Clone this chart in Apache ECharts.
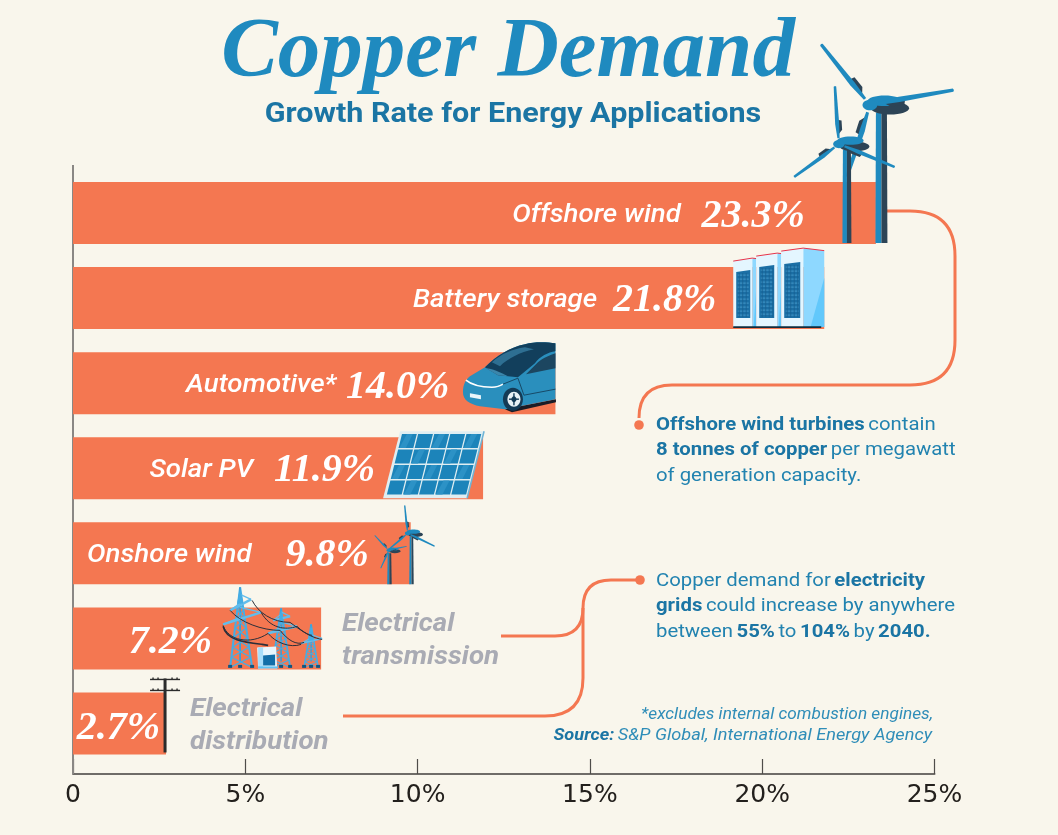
<!DOCTYPE html>
<html>
<head>
<meta charset="utf-8">
<title>Copper Demand</title>
<script src="https://cdn.jsdelivr.net/npm/echarts@6/dist/echarts.min.js"></script>
<style>
html, body { margin: 0; padding: 0; background: #f9f6ec; }
#chart { width: 1058px; height: 835px; }
</style>
</head>
<body>
<div id="chart"></div>
<script>
// data
var categories = ['Offshore wind', 'Battery storage', 'Automotive*', 'Solar PV', 'Onshore wind', 'Electrical\ntransmission', 'Electrical\ndistribution'];
var growthRates = [23.3, 21.8, 14.0, 11.9, 9.8, 7.2, 2.7];
var tickValues = [0, 5, 10, 15, 20, 25];

// layout of the labels, px back from each bar end
var valueGaps = [71, 108, 106, 108, 42, 109, 6];
var nameGaps = [195, 227, 219, 230, 159, null, null];
var valueNudge = [4, 3, 4, 2, 2, 4, 5];

var ORANGE = '#f47751', BLUE = '#1f8abf', DARK = '#2d4456', SKY = '#45ade4', INK = '#1b75a4';
var SANS = "Roboto, 'Noto Sans', sans-serif";

function poly(points, fill) {
	return {type: 'polygon', shape: {points: points}, style: {fill: fill}};
}
function line(x1, y1, x2, y2, stroke, width) {
	return {type: 'line', shape: {x1: x1, y1: y1, x2: x2, y2: y2}, style: {stroke: stroke, lineWidth: width}};
}
function path(d, style) {
	return {type: 'path', shape: {pathData: d}, style: style};
}

// one tapered blade with a dark fin near the hub
function blade(hx, hy, tx, ty, w) {
	var dx = tx - hx, dy = ty - hy, len = Math.sqrt(dx * dx + dy * dy);
	var nx = -dy / len, ny = dx / len;
	function at(t, s) { return [hx + dx * t + nx * s, hy + dy * t + ny * s]; }
	return [
		poly([at(0.16, 0), at(0.24, w * 1.5), at(0.4, w * 1.5), at(0.42, 0)], DARK),
		poly([at(0.1, -w * 0.4), at(0.35, -w * 0.85), at(0.99, -w * 0.45), at(1, 0), at(0.99, w * 0.45), at(0.35, w * 0.6), at(0.1, w * 0.4)], BLUE)
	];
}
function turbine(hx, hy, tips, tx, tw, baseY, w) {
	var n = w / 3.4;
	var els = [
		poly([[tx, hy + 7 * n], [tx + tw / 2, hy + 7 * n], [tx + tw / 2, baseY], [tx - 0.5, baseY]], BLUE),
		poly([[tx + tw / 2, hy + 3], [tx + tw, hy + 3], [tx + tw + 0.5, baseY], [tx + tw / 2, baseY]], DARK),
		{type: 'ellipse', shape: {cx: hx + 19 * n, cy: hy + 3 * n, rx: 18 * n, ry: 6 * n}, style: {fill: DARK}},
		{type: 'ellipse', shape: {cx: hx + 14 * n, cy: hy - 4 * n, rx: 16 * n, ry: 5 * n}, style: {fill: BLUE}}
	];
	tips.forEach(function (t) { els = els.concat(blade(hx, hy, t[0], t[1], w)); });
	els.push({type: 'ellipse', shape: {cx: hx, cy: hy, rx: 7 * n, ry: 5 * n}, style: {fill: BLUE}});
	return els;
}

function offshoreArt() {
	return turbine(870, 105, [[821, 44], [954, 90], [847, 177]], 876, 11, 243, 3.6)
		.concat(turbine(839, 144, [[835, 86], [794, 177], [895, 167]], 843, 8, 243, 2.8));
}
function onshoreArt() {
	return turbine(389, 550, [[375, 535], [407, 546], [381, 568]], 388, 3.5, 584, 1.1)
		.concat(turbine(408, 533, [[405, 505], [435, 546], [389, 549]], 410, 3.5, 584, 1.4));
}

function batteryArt() {
	var els = [];
	[[734, 753, 757, 258, 737, 751, 270], [757, 778, 782, 253, 760, 775, 265], [782, 804, 825, 248, 785, 801, 262]].forEach(function (c) {
		var lift = (c[2] - c[1]) * 0.12;
		els.push(poly([[c[1], c[3]], [c[2], c[3] + lift], [c[2], 327], [c[1], 327]], '#8ed8ff'));
		els.push(poly([[c[1] + (c[2] - c[1]) * 0.35, 327], [c[2], c[3] + 30], [c[2], 327]], '#62c8fb'));
		els.push(poly([[c[0], c[3] + 3], [c[1], c[3]], [c[1], 327], [c[0], 327]], '#e4f6ff'));
		els.push(line(c[0], c[3] + 3, c[1], c[3], '#e8344a', 1));
		els.push(line(c[1], c[3], c[2], c[3] + lift, '#e8344a', 1));
		els.push(poly([[c[4], c[6] + 2], [c[5], c[6]], [c[5], 318], [c[4], 318]], '#1b6fa5'));
		for (var gy = c[6] + 5; gy < 316; gy += 4) {
			els.push(line(c[4] + 1.5, gy, c[5] - 1.5, gy, '#3d93c4', 1.2));
		}
		for (var gx = c[4] + 3; gx < c[5] - 1; gx += 3.5) {
			els.push(line(gx, c[6] + 3, gx, 317, '#175f90', 0.8));
		}
	});
	els.push(line(734, 327, 822, 327, '#0f2d3e', 1.6));
	return els;
}

function carArt() {
	return [
		path('M505,409 L556,399 L556,402 L512,412 Z', {fill: '#1a1c26'}),
		path('M463,392 C463,384 466,379 470,376 L485,367 C497,355 510,347 525,344 C535,341 548,342 555.5,343 L555.5,399 L525,405 L505,409 L480,406 C470,404 463,400 463,392 Z', {fill: '#2a8fbd'}),
		path('M485,367 C497,355 510,347 525,344 C535,341 548,342 555.5,343 L555.5,351 C548,352 540,356 535,363 L518,377 L498,375 Z', {fill: '#123f5c'}),
		path('M492,362 C502,353 512,349 525,347 L534,349 C520,352 508,358 500,366 Z', {fill: '#2e6f92'}),
		path('M486,368 L498,375 L508,376 C500,372 492,368 486,368 Z', {fill: '#3b86ab'}),
		path('M526,374 L538,362 C544,357 550,355 555.5,353 L555.5,368 Z', {fill: '#1c4660'}),
		path('M518,378 L524,395 L555.5,389', {fill: 'none', stroke: '#174a68', lineWidth: 1}),
		path('M466,380 C472,385 482,387 492,387 C496,387 500,386 503,384', {fill: 'none', stroke: '#ffffff', lineWidth: 1.6}),
		path('M503,384 L518,378', {fill: 'none', stroke: '#174a68', lineWidth: 1}),
		poly([[470, 393], [481, 395], [481, 399], [470, 397]], '#eaf6fb'),
		{type: 'ellipse', shape: {cx: 513, cy: 399, rx: 10, ry: 11.5}, style: {fill: '#143b56'}},
		{type: 'ellipse', shape: {cx: 514, cy: 399, rx: 6.5, ry: 7.5}, style: {fill: '#e8f1f5'}},
		{type: 'ellipse', shape: {cx: 514, cy: 399, rx: 2.5, ry: 3}, style: {fill: '#143b56'}},
		line(514, 393, 514, 405, '#143b56', 1.4),
		line(509, 399, 519, 399, '#143b56', 1.4)
	];
}

function solarArt() {
	var els = [poly([[400, 431], [484, 431], [467, 498], [383, 498]], '#dfeef2')];
	els.push(line(484, 431, 467, 498, '#6fb4d6', 1.5));
	function corner(u, v) {
		var left = 401.5 - v * 15.5, right = 482 - v * 15.5;
		return [left + (right - left) * u, 433 + v * 62];
	}
	for (var r = 0; r < 4; r++) {
		for (var c = 0; c < 5; c++) {
			var u0 = c / 5 + 0.008, u1 = (c + 1) / 5 - 0.008, v0 = r / 4 + 0.012, v1 = (r + 1) / 4 - 0.012;
			els.push(poly([corner(u0, v0), corner(u1, v0), corner(u1, v1), corner(u0, v1)], '#1c84ba'));
			if ((r + c) % 2 === 0) {
				els.push(poly([corner(u0 + 0.06, v0), corner(u1 - 0.05, v0), corner(u0 + 0.09, v1), corner(u0 + 0.01, v1)], '#2c92c6'));
			}
		}
	}
	return els;
}

function towerArt(ax, ay, bl, br, by, arms, k) {
	var els = [];
	function spanX(t, side) { return ax + ((side < 0 ? bl : br) - ax) * t; }
	els.push(line(ax, ay, bl, by, SKY, 2 * k));
	els.push(line(ax, ay, br, by, SKY, 2 * k));
	els.push(line(ax, ay, ax, by - 6, '#3a9ed6', 1.8 * k));
	var steps = 9;
	for (var i = 1; i < steps; i++) {
		var t0 = Math.pow(i / steps, 1.15), t1 = Math.pow((i + 1) / steps, 1.15);
		var y0 = ay + (by - ay) * t0, y1 = ay + (by - ay) * t1;
		els.push(line(spanX(t0, -1), y0, spanX(t1, 1), y1, SKY, 1.2 * k));
		els.push(line(spanX(t0, 1), y0, spanX(t1, -1), y1, SKY, 1.2 * k));
	}
	arms.forEach(function (a) {
		els.push(line(a[0], a[1], a[2], a[3], '#62bdec', 2.4 * k));
		els.push(line(a[0], a[1], ax, a[1] - 7 * k, '#62bdec', 1.3 * k));
		els.push(line(a[2], a[3], ax, a[3] - 5 * k, '#62bdec', 1.3 * k));
	});
	els.push(poly([[ax - 3 * k, ay + 16], [ax, ay], [ax + 3 * k, ay + 16]], SKY));
	els.push(line(bl - 2, by - 1, bl + 2, by - 1, '#12557f', 3));
	els.push(line(br - 2, by - 1, br + 2, by - 1, '#12557f', 3));
	els.push(line(ax - 2, by - 1, ax + 2, by - 1, '#12557f', 3));
	return els;
}

function transmissionArt() {
	var wire = {fill: 'none', stroke: '#2b2f3a', lineWidth: 1};
	return [].concat(
		towerArt(311, 624, 304, 318, 667, [[301, 643, 322, 638]], 0.8),
		towerArt(281, 608, 272, 290, 667, [[268, 633, 297, 626], [273, 620, 290, 616]], 0.9),
		towerArt(240, 587, 230, 252, 667, [[230, 610, 251, 599], [223, 624, 261, 612]], 1),
		[
			path('M252,600 C258,612 272,622 290,622 C298,628 306,634 312,635', wire),
			path('M261,612 C270,628 285,630 297,626 C305,634 315,638 322,639', wire),
			path('M230,610 C240,622 262,630 280,630 C288,640 296,645 304,642', wire),
			path('M223,625 C228,640 250,645 268,633 C275,642 290,648 301,644', wire),
			path('M223,626 C226,640 245,642 262,644 L268,645', {fill: 'none', stroke: '#2b2f3a', lineWidth: 1.6}),
			poly([[257, 647], [276, 646], [277, 668], [258, 668]], '#eaf6fd'),
			poly([[258, 647], [263, 647], [263, 668], [258, 668]], '#a9defa'),
			poly([[263, 655], [275, 654], [275, 665], [263, 665]], '#126ea8'),
			line(258, 667, 278, 667, '#5cc2f5', 2)
		]
	);
}

function poleArt() {
	var els = [
		line(165, 679, 165, 753, '#2b2b2b', 3),
		line(150, 680, 180, 680, '#2b2b2b', 1.4),
		line(150, 691, 180, 691, '#2b2b2b', 1.4)
	];
	[153, 158, 172, 177].forEach(function (x) {
		els.push(line(x, 678, x, 680, '#2b2b2b', 1.4));
		els.push(line(x, 689, x, 691, '#2b2b2b', 1.4));
	});
	return els;
}

// art is drawn on its own board; the board's origin sits at the bar end
var artBoards = [
	{draw: offshoreArt, ox: 876, oy: 213},
	{draw: batteryArt, ox: 825, oy: 298},
	{draw: carArt, ox: 555.5, oy: 383},
	{draw: solarArt, ox: 483, oy: 468},
	{draw: onshoreArt, ox: 411, oy: 553},
	{draw: transmissionArt, ox: 321, oy: 638},
	{draw: poleArt, ox: 166, oy: 724}
];

function renderArt(params, api) {
	var p = api.coord([api.value(0), api.value(1)]);
	var board = artBoards[params.dataIndex];
	return {type: 'group', x: p[0] - board.ox, y: p[1] - board.oy, children: board.draw()};
}

function renderLabels(params, api) {
	var i = params.dataIndex;
	var p = api.coord([api.value(0), api.value(1)]);
	var children = [{
		type: 'text',
		style: {
			text: growthRates[i].toFixed(1) + '%', x: p[0] - valueGaps[i], y: p[1] + valueNudge[i],
			align: 'right', verticalAlign: 'middle',
			font: "italic bold 40px 'Liberation Serif'", fill: '#ffffff'
		}
	}];
	if (nameGaps[i] !== null) {
		children.push({
			type: 'text', x: p[0] - nameGaps[i], y: p[1] + 2, scaleX: 1.065,
			style: {
				text: categories[i], align: 'right', verticalAlign: 'middle',
				font: 'italic 500 26px ' + SANS, fill: '#ffffff'
			}
		});
	} else {
		children.push({
			type: 'text', x: p[0] + (i === 5 ? 21 : 24), y: p[1] + 3, scaleX: 1.065,
			style: {
				text: categories[i], align: 'left', verticalAlign: 'middle', lineHeight: 33,
				font: 'italic 700 26px ' + SANS, fill: '#a9abb4'
			}
		});
	}
	return {type: 'group', children: children};
}

function renderLeaders() {
	var style = {fill: 'none', stroke: ORANGE, lineWidth: 3};
	return {
		type: 'group',
		children: [
			path('M887,211 L910,211 Q955,211 955,256 L955,340 Q955,385 910,385 L672,385 Q639,385 639,418', style),
			path('M343,716 L545,716 Q583,716 583,678 L583,608 Q583,580 611,580 L640,580', style),
			path('M501,636 L555,636 Q583,636 583,608', style),
			{type: 'circle', shape: {cx: 639, cy: 425, r: 4.8}, style: {fill: ORANGE}},
			{type: 'circle', shape: {cx: 640, cy: 580, r: 4.8}, style: {fill: ORANGE}}
		]
	};
}

var noteRich = {
	b: {font: '700 19px ' + SANS, fill: '#1b75a4', lineHeight: 25.5},
	r: {font: '400 19px ' + SANS, fill: '#2283b0', lineHeight: 25.5}
};
var footRich = {
	n: {font: 'italic 400 17px ' + SANS, fill: '#2f8db8'},
	s: {font: 'italic 700 17px ' + SANS, fill: '#1b75a4'}
};
var chart = echarts.init(document.getElementById('chart'), null, {renderer: 'canvas'});
var seriesData = growthRates.map(function (v, i) { return [v, i]; });

chart.setOption({
	backgroundColor: '#f9f6ec',
	animation: false,
	grid: {left: 73, top: 170.5, width: 861.5, height: 595.5},
	xAxis: {
		type: 'value', min: tickValues[0], max: tickValues[tickValues.length - 1], interval: 5, offset: 8,
		splitLine: {show: false},
		axisLine: {show: true, lineStyle: {color: '#6f6c68', width: 2}},
		axisTick: {show: true, inside: true, length: 15, lineStyle: {color: '#4f4d4a', width: 1.2}},
		axisLabel: {
			margin: 9, fontSize: 25, fontFamily: 'DejaVu Sans', color: '#23201d',
			formatter: function (v) { return v === 0 ? '0' : v + '%'; }
		}
	},
	yAxis: {
		type: 'category', inverse: true, data: categories,
		axisLine: {show: false}, axisTick: {show: false}, axisLabel: {show: false}
	},
	graphic: [
		{type: 'line', z: 1, shape: {x1: 73, y1: 165, x2: 73, y2: 774}, style: {stroke: '#8a8784', lineWidth: 2}},
		{type: 'text', x: 508, y: 54, style: {text: 'Copper Demand', align: 'center', verticalAlign: 'middle', font: "italic bold 85px 'Liberation Serif'", fill: BLUE}},
		{type: 'text', x: 513, y: 115, scaleX: 1.09, style: {text: 'Growth Rate for Energy Applications', align: 'center', verticalAlign: 'middle', font: '700 28px ' + SANS, fill: INK}},
		{type: 'text', x: 656, y: 412, scaleX: 1.07, style: {text: '{b|Offshore wind turbines} {r|contain}\n{b|8 tonnes of copper} {r|per megawatt}\n{r|of generation capacity.}', rich: noteRich}},
		{type: 'text', x: 656, y: 568, scaleX: 1.07, style: {text: '{r|Copper demand for} {b|electricity}\n{b|grids} {r|could increase by anywhere}\n{r|between} {b|55%} {r|to} {b|104%} {r|by} {b|2040.}', rich: noteRich}},
		{type: 'text', x: 933, y: 715, scaleX: 1.015, style: {text: '{n|*excludes internal combustion engines,}', align: 'right', verticalAlign: 'middle', rich: footRich}},
		{type: 'text', x: 932, y: 736, scaleX: 1.07, style: {text: '{s|Source:} {n|S&P Global, International Energy Agency}', align: 'right', verticalAlign: 'middle', rich: footRich}}
	],
	series: [
		{
			name: 'Growth rate', type: 'bar', barWidth: 62, z: 2,
			itemStyle: {color: ORANGE}, silent: true,
			data: growthRates
		},
		{name: 'Leaders', type: 'custom', z: 3, silent: true, coordinateSystem: 'cartesian2d', data: [[0, 0]], encode: {x: 0, y: 1}, renderItem: renderLeaders},
		{name: 'Art', type: 'custom', z: 4, silent: true, data: seriesData, encode: {x: 0, y: 1}, renderItem: renderArt},
		{name: 'Labels', type: 'custom', z: 5, silent: true, data: seriesData, encode: {x: 0, y: 1}, renderItem: renderLabels}
	]
});
</script>
</body>
</html>
